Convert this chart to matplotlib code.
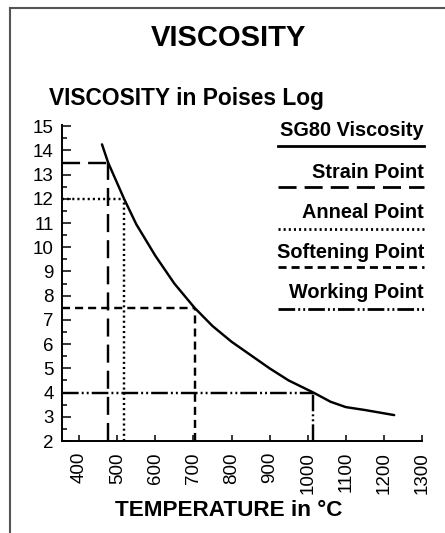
import matplotlib
matplotlib.use("Agg")
import matplotlib.pyplot as plt
from matplotlib.lines import Line2D

plt.rcParams['font.family'] = ['Liberation Sans', 'DejaVu Sans']
plt.rcParams['lines.scale_dashes'] = False

# Viscosity curve (temperature °C, log10 viscosity in poises)
temperature = [460, 476, 518, 550, 600, 650, 703, 750, 800, 850, 900, 950, 1015, 1060, 1100, 1150, 1227]
log_viscosity = [14.25, 13.5, 12.0, 10.95, 9.65, 8.5, 7.5, 6.75, 6.1, 5.55, 5.0, 4.5, 4.0, 3.62, 3.4, 3.28, 3.07]

# Reference points
point_names = ["Strain Point", "Anneal Point", "Softening Point", "Working Point"]
point_temps = [476, 518, 703, 1015]
point_visc = [13.5, 12.0, 7.5, 4.0]

x_ticks = [400, 500, 600, 700, 800, 900, 1000, 1100, 1200, 1300]
y_ticks = list(range(2, 16))

styles = {
    "Strain Point": (0, (13, 5.8)),
    "Anneal Point": (0, (1.5, 2.2)),
    "Softening Point": (0, (5.8, 3.6)),
    "Working Point": (0, (12, 2.2, 1.4, 2.2, 1.4, 2.2)),
}

W, H = 445, 533
fig = plt.figure(figsize=(W / 100, H / 100), dpi=100)
ax = fig.add_axes([62 / W, (H - 441) / H, (422 - 62) / W, (441 - 125) / H])

xmin, xmax, ymin, ymax = 355, 1300, 2, 15.05
ax.set_xlim(xmin, xmax)
ax.set_ylim(ymin, ymax)

lw = 1.75
ax.plot(temperature, log_viscosity, color='black', lw=lw, solid_capstyle='round',
        solid_joinstyle='round', zorder=3)

for name, t, v in zip(point_names, point_temps, point_visc):
    ls = styles[name]
    ax.plot([xmin, t], [v, v], color='black', lw=lw, linestyle=ls, dash_capstyle='butt')
    ax.plot([t, t], [ymin, v], color='black', lw=lw, linestyle=ls, dash_capstyle='butt')

for s in ['top', 'right']:
    ax.spines[s].set_visible(False)
for s in ['left', 'bottom']:
    ax.spines[s].set_linewidth(1.4)

ax.set_xticks(x_ticks)
ax.set_xticklabels([str(t) for t in x_ticks], rotation=90, va='top')
ax.set_yticks(y_ticks)
ax.set_yticks([y + 0.5 for y in y_ticks[:-1]], minor=True)
ax.tick_params(axis='y', which='major', direction='in', length=6.5, width=1.1,
               labelsize=13.5, pad=6)
ax.tick_params(axis='y', which='minor', direction='in', length=3.8, width=1.1)
ax.tick_params(axis='x', which='major', direction='in', length=4.3, width=1.1,
               labelsize=13.5, pad=8)

# Legend (label above its line sample)
leg_items = [("SG80 Viscosity", '-', 130, 146)] + [
    (n, styles[n], ty, ly) for n, ty, ly in zip(point_names, [172, 212, 253, 293], [187, 229, 267, 309])
]
x0, x1 = 278 / W, 424 / W
for label, ls, ty, ly in leg_items:
    fig.text(x1, (H - ty) / H, label, ha='right', va='center', fontsize=14.3,
             fontweight='bold')
    fig.add_artist(Line2D([x0, x1], [(H - ly) / H] * 2, color='black', lw=2.0,
                          linestyle=ls, transform=fig.transFigure))

fig.text(228 / W, (H - 38) / H, "VISCOSITY", ha='center', va='center', fontsize=21,
         fontweight='bold')
fig.text(49 / W, (H - 98) / H, "VISCOSITY in Poises Log", ha='left', va='center',
         fontsize=16.4, fontweight='bold')
fig.text(229 / W, (H - 510) / H, "TEMPERATURE in °C", ha='center', va='center',
         fontsize=16.2, fontweight='bold')

# Border frame
fig.add_artist(Line2D([10 / W, 1], [(H - 8) / H] * 2, color='#555555', lw=1.5,
                      transform=fig.transFigure))
fig.add_artist(Line2D([10 / W] * 2, [0, (H - 8) / H], color='#555555', lw=1.5,
                      transform=fig.transFigure))

fig.savefig("out.png", dpi=100)
